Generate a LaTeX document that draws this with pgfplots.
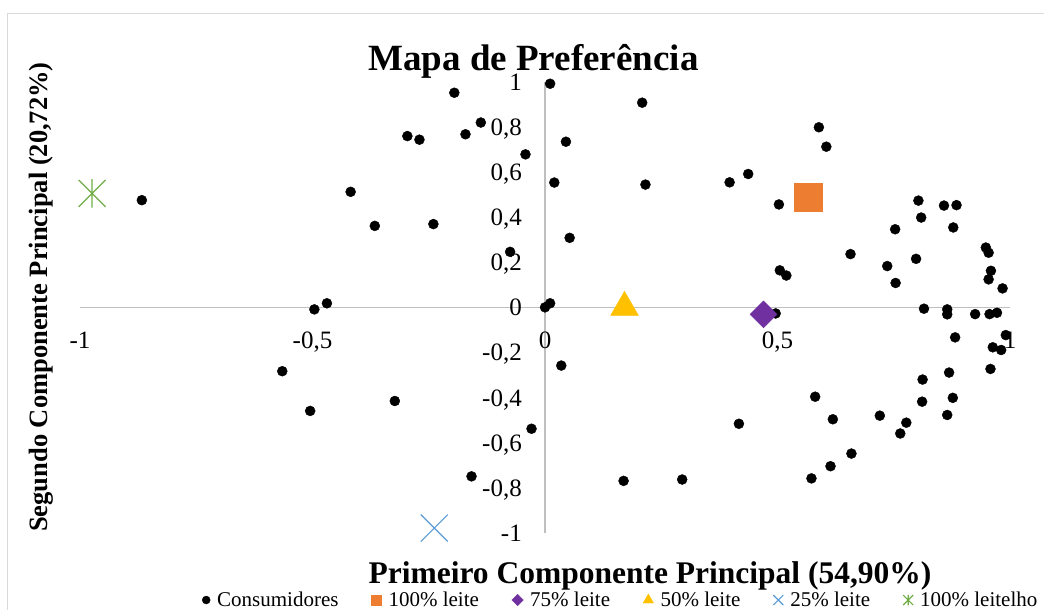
\documentclass[border=0pt]{standalone}
\usepackage{fontspec}
\setmainfont{Liberation Serif}
\usepackage{pgfplots}
\pgfplotsset{compat=1.18}
\definecolor{corange}{HTML}{ED7D31}
\definecolor{cpurple}{HTML}{7030A0}
\definecolor{cyellow}{HTML}{FFC000}
\definecolor{cblue}{HTML}{5B9BD5}
\definecolor{cgreen}{HTML}{70AD47}
\pgfdeclareplotmark{starx}{%
  \pgfpathmoveto{\pgfqpoint{-.7071\pgfplotmarksize}{-.7071\pgfplotmarksize}}%
  \pgfpathlineto{\pgfqpoint{.7071\pgfplotmarksize}{.7071\pgfplotmarksize}}%
  \pgfpathmoveto{\pgfqpoint{-.7071\pgfplotmarksize}{.7071\pgfplotmarksize}}%
  \pgfpathlineto{\pgfqpoint{.7071\pgfplotmarksize}{-.7071\pgfplotmarksize}}%
  \pgfpathmoveto{\pgfqpoint{0pt}{-.75\pgfplotmarksize}}%
  \pgfpathlineto{\pgfqpoint{0pt}{.75\pgfplotmarksize}}%
  \pgfusepathqstroke}
\pgfplotsset{onemark/.style={legend image code/.code={\draw[##1] plot coordinates {(0pt,0pt)};}}}
\begin{document}
\begin{tikzpicture}
\begin{axis}[
  scale only axis, width=930pt, height=451.3pt,
  xmin=-1, xmax=1, ymin=-1, ymax=1,
  axis lines=middle,
  axis line style={draw=black!25, line width=1.5pt, -},
  xtick={-1,-0.5,0,0.5,1},
  xticklabels={-1,{-0,5},0,{0,5},1},
  ytick={-1,-0.8,-0.6,-0.4,-0.2,0,0.2,0.4,0.6,0.8,1},
  yticklabels={-1,{-0,8},{-0,6},{-0,4},{-0,2},0,{0,2},{0,4},{0,6},{0,8},1},
  major tick length=0pt,
  hide obscured x ticks=false, hide obscured y ticks=false,
  ticklabel style={font=\fontsize{25}{30}\selectfont},
  xticklabel style={anchor=base, inner sep=0pt, yshift=-41pt},
  yticklabel style={anchor=base east, inner sep=0pt, xshift=-23pt, yshift=-8.5pt},
  clip=false,
  legend columns=6,
  legend style={at={(axis description cs:0.1312,-0.1485)}, anchor=west,
    draw=none, fill=none, inner sep=0pt,
    font=\fontsize{21}{25}\selectfont,
    /tikz/every odd column/.append style={column sep=5pt},
    /tikz/every even column/.append style={column sep=31pt}},
  legend cell align=left,
]
\addplot[only marks, mark=*, mark size=5pt, black, onemark,
  legend image post style={mark size=4pt}] coordinates {
(-0.867,0.475) (-0.195,0.951) (-0.138,0.819) (-0.296,0.759) (-0.270,0.743)
(-0.171,0.767) (-0.042,0.678) (0.011,0.991) (0.020,0.553) (-0.418,0.512)
(-0.366,0.361) (-0.240,0.369) (-0.075,0.246) (-0.496,-0.009) (-0.469,0.018)
(0.000,0.000) (0.011,0.018)
(0.209,0.907) (0.045,0.734) (0.216,0.544) (0.053,0.308) (0.589,0.798)
(0.605,0.712) (0.397,0.554) (0.437,0.591) (0.503,0.456) (0.803,0.473)
(0.858,0.451) (0.885,0.453) (0.809,0.398) (0.878,0.354) (0.753,0.346)
(0.657,0.236) (0.736,0.183) (0.798,0.215) (0.754,0.108) (0.948,0.265)
(0.954,0.242) (0.959,0.162) (0.954,0.124) (0.984,0.084) (0.505,0.164)
(0.519,0.141)
(0.815,-0.006) (0.865,-0.009) (0.865,-0.031) (0.925,-0.030) (0.956,-0.030)
(0.972,-0.024) (0.496,-0.027)
(0.991,-0.123) (0.882,-0.133) (0.963,-0.177) (0.981,-0.189) (0.035,-0.258)
(0.958,-0.273) (0.869,-0.289) (0.812,-0.320) (0.581,-0.396) (0.811,-0.418)
(0.877,-0.401) (0.865,-0.477) (0.720,-0.480) (0.619,-0.496) (0.777,-0.511)
(0.764,-0.559) (0.417,-0.516) (0.659,-0.648) (0.614,-0.704) (0.573,-0.758)
(0.295,-0.763) (0.169,-0.769)
(-0.565,-0.283) (-0.505,-0.459) (-0.323,-0.415) (-0.029,-0.538) (-0.158,-0.749)
};
\addlegendentry{Consumidores}
\addplot[only marks, mark=square*, mark size=14pt, corange, mark options={fill=corange, draw=corange}, onemark,
  legend image post style={mark size=5pt}] coordinates {(0.566,0.489)};
\addlegendentry{100\% leite}
\addplot[only marks, mark=square*, mark size=9.5pt, cpurple, mark options={fill=cpurple, draw=cpurple, rotate=45}, onemark,
  legend image post style={mark size=4pt}] coordinates {(0.470,-0.031)};
\addlegendentry{75\% leite}
\addplot[only marks, mark=triangle*, mark size=16pt, cyellow, mark options={fill=cyellow, draw=cyellow}, onemark,
  legend image post style={mark size=6pt}] coordinates {(0.171,0.0)};
\addlegendentry{50\% leite}
\addplot[only marks, mark=x, mark size=19pt, cblue, mark options={line width=1.2pt}, onemark,
  legend image post style={mark size=7pt}] coordinates {(-0.238,-0.978)};
\addlegendentry{25\% leite}
\addplot[only marks, mark=starx, mark size=19pt, cgreen, mark options={line width=1.2pt}, onemark,
  legend image post style={mark size=7pt}] coordinates {(-0.974,0.505)};
\addlegendentry{100\% leitelho}
\coordinate (bl) at (rel axis cs:0,0);
\coordinate (tr) at (rel axis cs:1,1);
\node[anchor=base, font=\fontsize{37}{40}\selectfont\bfseries] at (axis description cs:0.4876,1.0259) {Mapa de Preferência};
\node[anchor=base, font=\fontsize{31.5}{36}\selectfont\bfseries] at (axis description cs:0.6129,-0.1121) {Primeiro Componente Principal (54,90\%)};
\node[anchor=base, rotate=90, font=\fontsize{26.5}{30}\selectfont\bfseries] at (axis description cs:-0.0347,0.5229) {Segundo Componente Principal (20,72\%)};
\end{axis}
\draw[black!15, line width=1pt] ([shift={(-72pt,-77pt)}]bl) |- ([shift={(34pt,67.7pt)}]tr);
\pgfresetboundingbox
\path[use as bounding box] ([shift={(-80pt,-77pt)}]bl) rectangle ([shift={(34pt,81.7pt)}]tr);
\end{tikzpicture}
\end{document}
